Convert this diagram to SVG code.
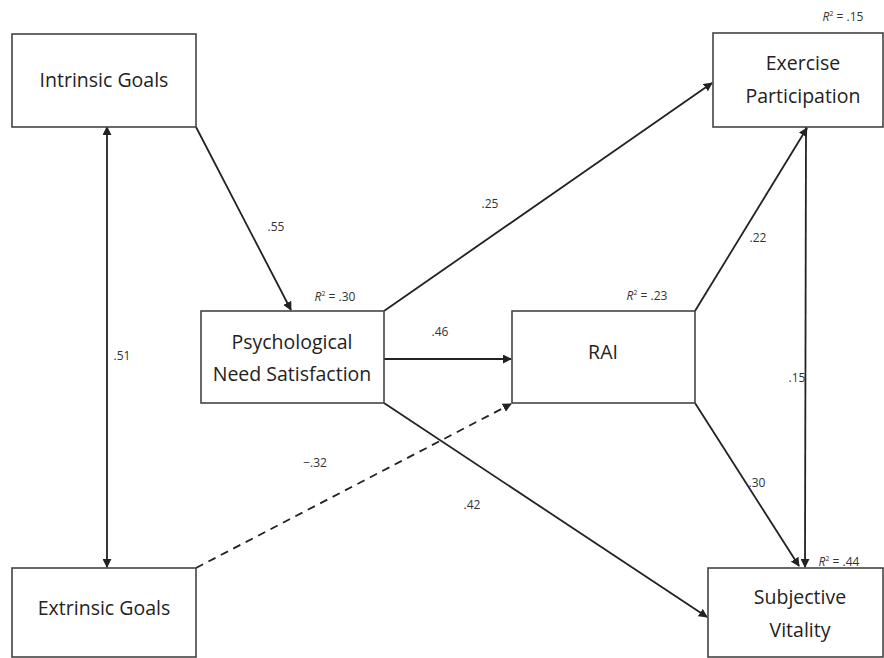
<svg xmlns="http://www.w3.org/2000/svg" width="884" height="658" viewBox="0 0 884 658">
<style>
.box{fill:#fff;stroke:#444;stroke-width:1.6}
.t{font-family:"Open Sans","Liberation Sans",sans-serif;font-size:19.5px;fill:#222;text-anchor:middle}
.l{font-family:"Open Sans","Liberation Sans",sans-serif;font-size:12px;fill:#333;text-anchor:middle}
.e{stroke:#222;stroke-width:1.8;fill:none}
.d{stroke-dasharray:8,6}
</style>
<defs>
<marker id="a" viewBox="0 0 10 10" refX="9" refY="5" markerWidth="5" markerHeight="5" orient="auto-start-reverse" markerUnits="strokeWidth">
<path d="M0,0 L10,5 L0,10 z" fill="#222"/>
</marker>
</defs>
<rect width="884" height="658" fill="#fff"/>
<g id="edges">
<line class="e" x1="196" y1="127" x2="291" y2="310" marker-end="url(#a)"/>
<line class="e" x1="107" y1="127" x2="107" y2="567" marker-start="url(#a)" marker-end="url(#a)"/>
<line class="e" x1="384" y1="311" x2="712" y2="83" marker-end="url(#a)"/>
<line class="e" x1="384" y1="359" x2="511" y2="359" marker-end="url(#a)"/>
<line class="e d" x1="196" y1="568" x2="511" y2="404" marker-end="url(#a)"/>
<line class="e" x1="384" y1="403" x2="707" y2="617" marker-end="url(#a)"/>
<line class="e" x1="695" y1="311" x2="807" y2="128" marker-end="url(#a)"/>
<line class="e" x1="806" y1="127" x2="805" y2="567" marker-end="url(#a)"/>
<line class="e" x1="695" y1="403" x2="799" y2="566" marker-end="url(#a)"/>
<text class="l" x="276" y="231">.55</text>
<text class="l" x="122" y="360">.51</text>
<text class="l" x="490" y="208">.25</text>
<text class="l" x="440" y="336">.46</text>
<text class="l" x="315" y="467">−.32</text>
<text class="l" x="472" y="509">.42</text>
<text class="l" x="758" y="242">.22</text>
<text class="l" x="797" y="382">.15</text>
<text class="l" x="757" y="487">.30</text>
</g>
<g id="intrinsic">
<rect class="box" x="12" y="34" width="184" height="93"/>
<text class="t" x="104" y="87">Intrinsic Goals</text>
</g>
<g id="exercise">
<rect class="box" x="713" y="33" width="170" height="94"/>
<text class="t" x="803" y="70">Exercise</text>
<text class="t" x="803" y="103">Participation</text>
<text class="l" x="843" y="21"><tspan font-style="italic">R</tspan><tspan font-size="7" dy="-5">2</tspan><tspan dy="5"> = .15</tspan></text>
</g>
<g id="psych">
<rect class="box" x="201" y="311" width="183" height="92"/>
<text class="t" x="292" y="349">Psychological</text>
<text class="t" x="292" y="381">Need Satisfaction</text>
<text class="l" x="335" y="301"><tspan font-style="italic">R</tspan><tspan font-size="7" dy="-5">2</tspan><tspan dy="5"> = .30</tspan></text>
</g>
<g id="rai">
<rect class="box" x="512" y="311" width="183" height="92"/>
<text class="t" x="603" y="359">RAI</text>
<text class="l" x="647" y="300"><tspan font-style="italic">R</tspan><tspan font-size="7" dy="-5">2</tspan><tspan dy="5"> = .23</tspan></text>
</g>
<g id="extrinsic">
<rect class="box" x="12" y="568" width="184" height="89"/>
<text class="t" x="104" y="615">Extrinsic Goals</text>
</g>
<g id="vitality">
<rect class="box" x="708" y="568" width="175" height="89"/>
<text class="t" x="800" y="604">Subjective</text>
<text class="t" x="800" y="637">Vitality</text>
<text class="l" x="839" y="566"><tspan font-style="italic">R</tspan><tspan font-size="7" dy="-5">2</tspan><tspan dy="5"> = .44</tspan></text>
</g>
</svg>
